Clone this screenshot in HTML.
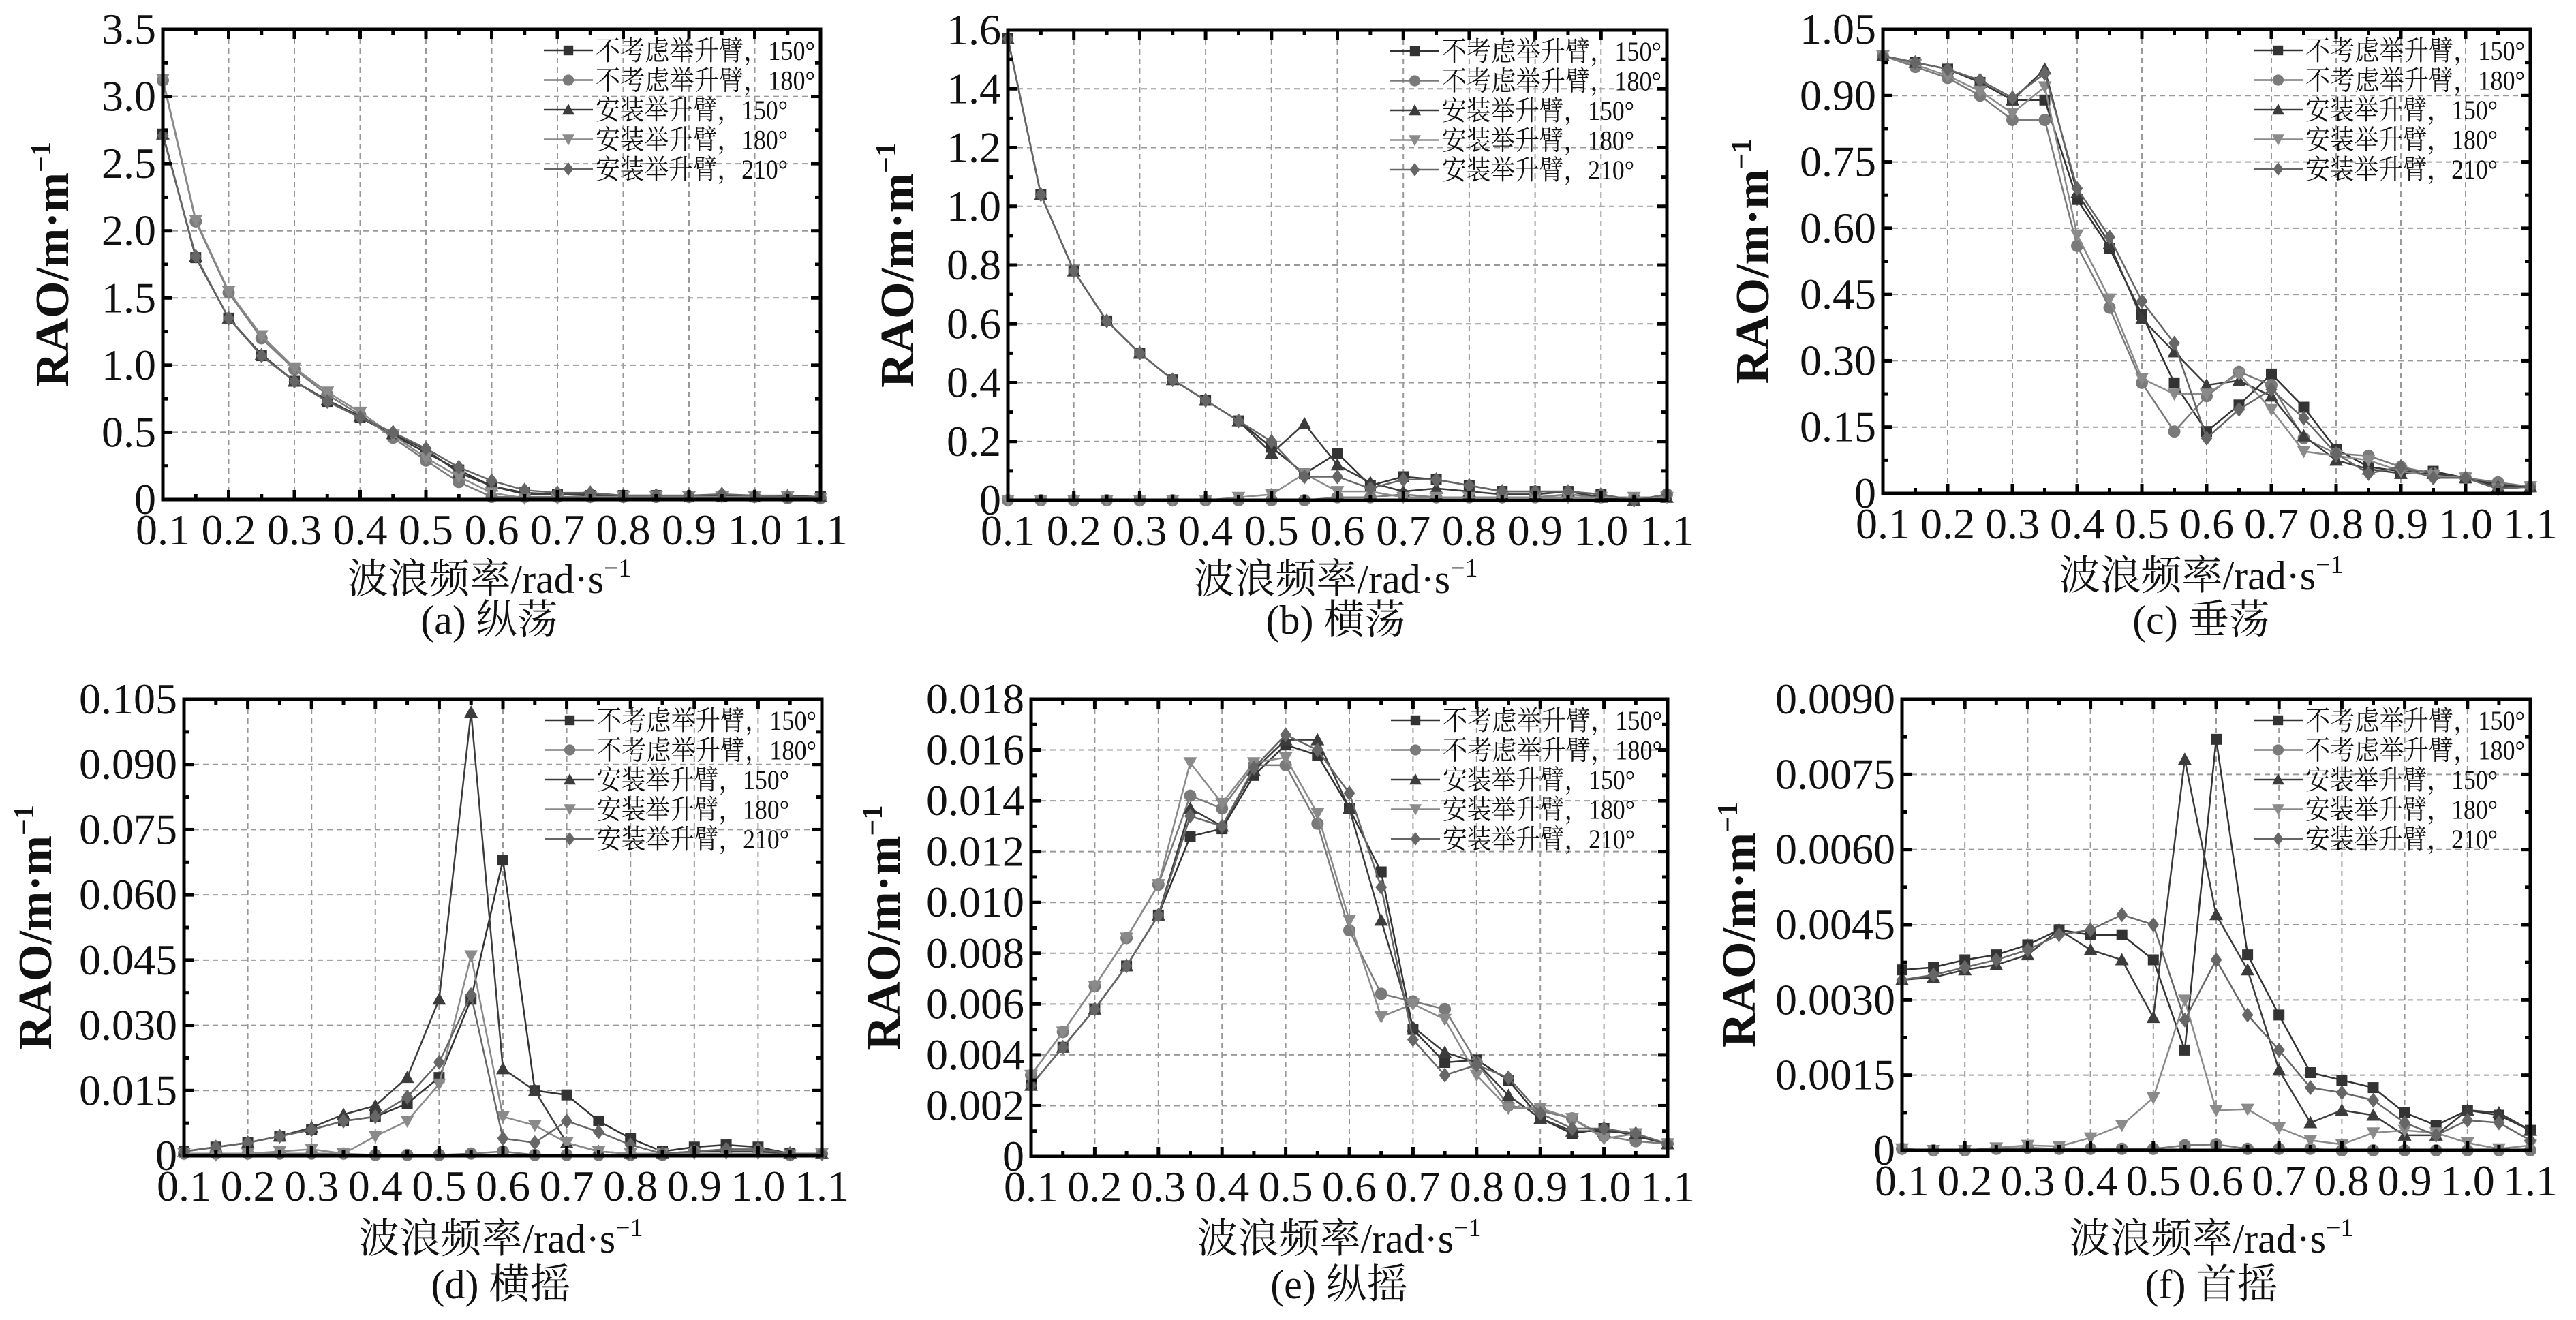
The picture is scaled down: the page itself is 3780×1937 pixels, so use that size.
<!DOCTYPE html>
<html><head><meta charset="utf-8">
<style>
html,body{margin:0;padding:0;background:#fff;}
svg{display:block;}
svg, svg text{font-family:"Liberation Serif","Noto Serif CJK SC","Noto Sans CJK SC",serif;fill:#111;}
</style></head>
<body>
<svg id="fig" width="3780" height="1937" viewBox="0 0 3780 1937" xmlns="http://www.w3.org/2000/svg" font-family="'Liberation Serif','Noto Serif CJK SC',serif"></svg>
<script>
const freqs = [0.1,0.15,0.2,0.25,0.3,0.35,0.4,0.45,0.5,0.55,0.6,0.65,0.7,0.75,0.8,0.85,0.9,0.95,1.0,1.05,1.1];
const seriesNames = ["不考虑举升臂，150°","不考虑举升臂，180°","安装举升臂，150°","安装举升臂，180°","安装举升臂，210°"];

// (a) surge
const surgeS1 = [2.72,1.80,1.35,1.07,0.88,0.73,0.61,0.48,0.35,0.22,0.10,0.05,0.04,0.03,0.03,0.03,0.02,0.02,0.02,0.02,0.02];
const surgeS2 = [3.12,2.07,1.54,1.20,0.97,0.78,0.63,0.46,0.29,0.13,0.02,0.02,0.02,0.02,0.02,0.02,0.02,0.03,0.02,0.01,0.01];
const surgeS3 = [2.72,1.81,1.35,1.08,0.88,0.74,0.62,0.49,0.37,0.20,0.10,0.04,0.04,0.04,0.03,0.03,0.03,0.03,0.03,0.03,0.02];
const surgeS4 = [3.13,2.08,1.55,1.22,0.98,0.80,0.65,0.48,0.31,0.17,0.05,0.01,0.01,0.02,0.02,0.02,0.02,0.02,0.02,0.02,0.01];
const surgeS5 = [2.71,1.81,1.35,1.07,0.88,0.73,0.61,0.50,0.38,0.24,0.14,0.07,0.05,0.05,0.03,0.03,0.03,0.04,0.03,0.02,0.02];
const surgeTicks = ["0","0.5","1.0","1.5","2.0","2.5","3.0","3.5"];

// (b) sway
const swayS1 = [1.57,1.04,0.78,0.61,0.50,0.41,0.34,0.27,0.18,0.09,0.16,0.05,0.08,0.07,0.05,0.03,0.03,0.03,0.02,0.00,0.01];
const swayS2 = [0,0,0,0,0,0,0,0,0,0,0.01,0.01,0.02,0.01,0.01,0.01,0.01,0.02,0.01,0.00,0.02];
const swayS3 = [1.57,1.04,0.78,0.61,0.50,0.41,0.34,0.27,0.16,0.26,0.12,0.06,0.03,0.04,0.03,0.02,0.02,0.03,0.01,0.00,0.01];
const swayS4 = [0,0,0,0,0,0,0,0.01,0.02,0.09,0.03,0.03,0.01,0.01,0.01,0.01,0.01,0.01,0.01,0.01,0.01];
const swayS5 = [1.57,1.04,0.78,0.61,0.50,0.41,0.34,0.27,0.20,0.08,0.08,0.04,0.07,0.07,0.05,0.03,0.03,0.03,0.02,0.00,0.02];
const swayTicks = ["0","0.2","0.4","0.6","0.8","1.0","1.2","1.4","1.6"];

// (c) heave
const heaveS1 = [0.99,0.975,0.96,0.93,0.89,0.89,0.665,0.555,0.405,0.25,0.14,0.20,0.27,0.195,0.10,0.06,0.05,0.05,0.035,0.02,0.015];
const heaveS2 = [0.99,0.965,0.94,0.90,0.845,0.845,0.56,0.42,0.25,0.14,0.22,0.275,0.245,0.125,0.09,0.085,0.06,0.045,0.035,0.025,0.015];
const heaveS3 = [0.99,0.975,0.96,0.93,0.89,0.96,0.68,0.565,0.395,0.32,0.245,0.255,0.22,0.13,0.075,0.055,0.045,0.045,0.035,0.015,0.015];
const heaveS4 = [0.99,0.97,0.945,0.91,0.86,0.92,0.585,0.44,0.26,0.225,0.225,0.27,0.19,0.095,0.085,0.075,0.05,0.04,0.035,0.01,0.015];
const heaveS5 = [0.99,0.975,0.96,0.935,0.895,0.95,0.69,0.58,0.435,0.34,0.125,0.19,0.235,0.17,0.09,0.045,0.06,0.035,0.035,0.01,0.015];
const heaveTicks = ["0","0.15","0.30","0.45","0.60","0.75","0.90","1.05"];

// (d) roll
const rollS1 = [0.001,0.002,0.003,0.0045,0.006,0.008,0.009,0.012,0.018,0.036,0.068,0.015,0.014,0.008,0.004,0.001,0.002,0.0025,0.002,0.0005,0.0005];
const rollS2 = [0.0005,0.0005,0.0005,0.0005,0.0005,0.0005,0.0002,0.0002,0.0002,0.0005,0.001,0.0002,0.0002,0.0002,0.0002,0.0002,0.001,0.001,0.001,0.0002,0.0005];
const rollS3 = [0.001,0.002,0.003,0.0045,0.0065,0.0095,0.0115,0.018,0.036,0.102,0.020,0.015,0.003,0.001,0.0005,0.0005,0.001,0.001,0.001,0.0005,0.0005];
const rollS4 = [0.0005,0.0002,0.0005,0.001,0.0015,0.0005,0.0045,0.008,0.0165,0.046,0.009,0.007,0.003,0.001,0.0005,0.0005,0.0005,0.0005,0.0005,0.0002,0.0005];
const rollS5 = [0.001,0.002,0.003,0.0045,0.006,0.008,0.009,0.0135,0.0215,0.037,0.004,0.003,0.008,0.0055,0.0025,0.0005,0.001,0.0015,0.0015,0.0005,0.0005];
const rollTicks = ["0","0.015","0.030","0.045","0.060","0.075","0.090","0.105"];

// (e) pitch
const pitchS1 = [0.0028,0.0043,0.0058,0.0075,0.0095,0.0126,0.0129,0.0150,0.0162,0.0158,0.0137,0.0112,0.0050,0.0037,0.0038,0.0030,0.0015,0.0009,0.0011,0.0008,0.0005];
const pitchS2 = [0.0032,0.0049,0.0067,0.0086,0.0107,0.0142,0.0137,0.0154,0.0154,0.0131,0.0089,0.0064,0.0061,0.0058,0.0037,0.0020,0.0018,0.0015,0.0008,0.0006,0.0005];
const pitchS3 = [0.0028,0.0043,0.0058,0.0075,0.0095,0.0137,0.0130,0.0152,0.0164,0.0164,0.0137,0.0093,0.0051,0.0041,0.0037,0.0024,0.0015,0.0010,0.0010,0.0009,0.0005];
const pitchS4 = [0.0032,0.0049,0.0067,0.0086,0.0107,0.0155,0.0139,0.0155,0.0157,0.0135,0.0093,0.0055,0.0060,0.0054,0.0032,0.0019,0.0019,0.0015,0.0007,0.0009,0.0005];
const pitchS5 = [0.0028,0.0043,0.0058,0.0075,0.0095,0.0134,0.0130,0.0153,0.0166,0.0160,0.0143,0.0106,0.0046,0.0032,0.0036,0.0031,0.0017,0.0011,0.0011,0.0009,0.0005];
const pitchTicks = ["0","0.002","0.004","0.006","0.008","0.010","0.012","0.014","0.016","0.018"];

// (f) yaw
const yawS1 = [0.0036,0.00365,0.0038,0.0039,0.0041,0.0044,0.0043,0.0043,0.0038,0.0020,0.0082,0.0039,0.0027,0.00155,0.0014,0.00125,0.00075,0.0005,0.0008,0.0007,0.0004];
const yawS2 = [0.00003,0,0,0.00003,0.00005,0.00003,0.00003,0.00003,0.00003,0.0001,0.00012,0.00003,0.00003,0.00003,0,0,0,0,0,0,0];
const yawS3 = [0.0034,0.00345,0.0036,0.0037,0.0039,0.0044,0.0040,0.0038,0.00265,0.0078,0.0047,0.0036,0.0016,0.00055,0.0008,0.0007,0.0003,0.0003,0.0008,0.00075,0.0004];
const yawS4 = [0.00003,0,0,0.00005,0.0001,0.00008,0.00025,0.0005,0.00105,0.0030,0.0008,0.00082,0.00045,0.0002,0.00012,0.00035,0.0004,0.00035,0.00015,0.00003,0.0001];
const yawS5 = [0.0034,0.0035,0.00365,0.0038,0.0040,0.0043,0.0044,0.0047,0.0045,0.0026,0.0038,0.0027,0.0020,0.00125,0.00115,0.0010,0.00055,0.0003,0.0006,0.00055,0.0002];
const yawTicks = ["0","0.0015","0.0030","0.0045","0.0060","0.0075","0.0090"];

const xTicks = ["0.1","0.2","0.3","0.4","0.5","0.6","0.7","0.8","0.9","1.0","1.1"];

const NS = "http://www.w3.org/2000/svg";
const svg = document.getElementById("fig");
const FONT = "'Liberation Serif','Noto Serif CJK SC',serif";
function mk(tag, attrs, parent){
  const e = document.createElementNS(NS, tag);
  for (const k in attrs) e.setAttribute(k, attrs[k]);
  (parent||svg).appendChild(e);
  return e;
}
const colors = ["#333","#7a7a7a","#3c3c3c","#8a8a8a","#666"];
const markerTypes = ["square","circle","up","down","diamond"];

function marker(g, type, x, y, c, s){
  let e;
  if (type==="square") e = mk("rect",{x:x-s*0.8,y:y-s*0.8,width:s*1.6,height:s*1.6,fill:c},g);
  else if (type==="circle") e = mk("circle",{cx:x,cy:y,r:s*0.9,fill:c},g);
  else if (type==="up") e = mk("polygon",{points:`${x},${y-s} ${x-s},${y+s*0.8} ${x+s},${y+s*0.8}`,fill:c},g);
  else if (type==="down") e = mk("polygon",{points:`${x},${y+s} ${x-s},${y-s*0.8} ${x+s},${y-s*0.8}`,fill:c},g);
  else e = mk("polygon",{points:`${x},${y-s*1.1} ${x+s*0.85},${y} ${x},${y+s*1.1} ${x-s*0.85},${y}`,fill:c},g);
  return e;
}

const panels = [
  {id:"surge",L:239,R:1204,T:43,B:733,ymax:3.5,ticks:surgeTicks,series:[surgeS1,surgeS2,surgeS3,surgeS4,surgeS5],cap:"(a) 纵荡",xc:718,capY:930,titleY:870,yx:100},
  {id:"sway",L:1479,R:2446,T:44,B:734,ymax:1.6,ticks:swayTicks,series:[swayS1,swayS2,swayS3,swayS4,swayS5],cap:"(b) 横荡",xc:1960,capY:930,titleY:870,yx:1340},
  {id:"heave",L:2763,R:3713,T:43,B:724,ymax:1.05,ticks:heaveTicks,series:[heaveS1,heaveS2,heaveS3,heaveS4,heaveS5],cap:"(c) 垂荡",xc:3230,capY:930,titleY:865,yx:2595},
  {id:"roll",L:270,R:1206,T:1026,B:1696,ymax:0.105,ticks:rollTicks,series:[rollS1,rollS2,rollS3,rollS4,rollS5],cap:"(d) 横摇",xc:735,capY:1905,titleY:1838,yx:75},
  {id:"pitch",L:1513,R:2447,T:1026,B:1697,ymax:0.018,ticks:pitchTicks,series:[pitchS1,pitchS2,pitchS3,pitchS4,pitchS5],cap:"(e) 纵摇",xc:1965,capY:1905,titleY:1838,yx:1320},
  {id:"yaw",L:2791,R:3713,T:1026,B:1688,ymax:0.009,ticks:yawTicks,series:[yawS1,yawS2,yawS3,yawS4,yawS5],cap:"(f) 首摇",xc:3245,capY:1905,titleY:1838,yx:2575}
];

panels.forEach(p=>{
  const g = mk("g",{"font-family":FONT});
  
  
  const xs = v => p.L + (v-0.1)/1.0*(p.R-p.L);
  const ys = v => p.B - v/p.ymax*(p.B-p.T);
  const nY = p.ticks.length-1;
  const grid = mk("g",{stroke:"#999","stroke-width":2,"stroke-dasharray":"8,6"},g);
  
  
  for (let i=1;i<xTicks.length-1;i++){ const x=xs(0.1+i*0.1); mk("line",{x1:x,y1:p.T,x2:x,y2:p.B},grid); }
  for (let i=1;i<nY;i++){ const y=p.B-i*(p.B-p.T)/nY; mk("line",{x1:p.L,y1:y,x2:p.R,y2:y},grid); }
  p.series.forEach((arr,si)=>{
    const sg = mk("g",{},g);
    
    
    const pts = arr.map((v,i)=>xs(freqs[i]).toFixed(1)+","+ys(v).toFixed(1)).join(" ");
    mk("polyline",{points:pts,fill:"none",stroke:colors[si],"stroke-width":2.5},sg);
    arr.forEach((v,i)=>{ marker(sg, markerTypes[si], xs(freqs[i]), ys(v), colors[si], 10); });
  });
  const ax = mk("g",{stroke:"#000","stroke-width":5,fill:"none"},g);
  
  
  mk("rect",{x:p.L,y:p.T,width:p.R-p.L,height:p.B-p.T},ax);
  for (let i=0;i<=20;i++){
    const x=xs(0.1+i*0.05), len = i%2===0?14:8;
    mk("line",{x1:x,y1:p.B,x2:x,y2:p.B-len},ax);
    mk("line",{x1:x,y1:p.T,x2:x,y2:p.T+len},ax);
  }
  for (let i=0;i<=nY*2;i++){
    const y=p.B-i*(p.B-p.T)/(nY*2), len = i%2===0?14:8;
    mk("line",{x1:p.L,y1:y,x2:p.L+len,y2:y},ax);
    mk("line",{x1:p.R,y1:y,x2:p.R-len,y2:y},ax);
  }
  xTicks.forEach((t,i)=>{
    const e = mk("text",{x:xs(0.1+i*0.1),y:p.B+66,"font-size":64,"text-anchor":"middle","font-family":FONT},g);
    e.textContent = t;
    
    
  });
  p.ticks.forEach((t,i)=>{
    const e = mk("text",{x:p.L-10,y:p.B-i*(p.B-p.T)/nY+21,"font-size":64,"text-anchor":"end","font-family":FONT},g);
    e.textContent = t;
    
    
  });
  const yc = (p.T+p.B)/2;
  const yt = mk("text",{x:0,y:0,"font-size":70,"font-weight":"bold","text-anchor":"middle","font-family":FONT,transform:`translate(${p.yx},${yc}) rotate(-90)`},g);
  yt.innerHTML = 'RAO/m·m<tspan dy="-26" font-size="42">−1</tspan>';
  
  
  const xt = mk("text",{x:p.xc,y:p.titleY,"font-size":60,"text-anchor":"middle","font-family":FONT},g);
  xt.innerHTML = '波浪频率/rad·s<tspan dy="-24" font-size="38">−1</tspan>';
  
  
  const cp = mk("text",{x:p.xc,y:p.capY,"font-size":60,"text-anchor":"middle","font-family":FONT},g);
  cp.textContent = p.cap;
  
  
  const lg = mk("g",{},g);
  
  
  const lx = p.R-406;
  seriesNames.forEach((n,si)=>{
    const y = p.T+31+si*43.5;
    const en = mk("g",{},lg);
    
    
    mk("line",{x1:lx,y1:y,x2:lx+72,y2:y,stroke:colors[si],"stroke-width":2.5},en);
    marker(en, markerTypes[si], lx+36, y, colors[si], 9);
    const t = mk("text",{x:lx+76,y:y+14,"font-size":40,"font-family":FONT,textLength:si<2?322:282,lengthAdjust:"spacingAndGlyphs"},en);
    t.textContent = n;
  });
});
</script>
</body></html>
